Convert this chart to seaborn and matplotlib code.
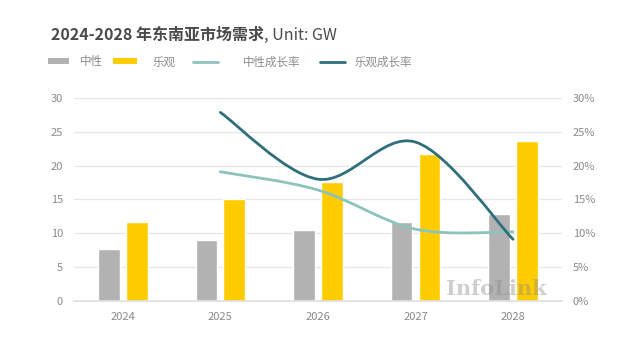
import matplotlib
matplotlib.use("Agg")
import matplotlib.pyplot as plt
import seaborn as sns
import pandas as pd
import numpy as np
from matplotlib.path import Path
from matplotlib.patches import PathPatch, Patch
from matplotlib.lines import Line2D
from matplotlib.ticker import FuncFormatter

# 数据
years = ["2024", "2025", "2026", "2027", "2028"]
neutral = [7.6, 9.0, 10.5, 11.6, 12.8]
optimistic = [11.7, 15.0, 17.6, 21.7, 23.7]
growth_years = ["2025", "2026", "2027", "2028"]
neutral_growth = [19.1, 16.4, 10.6, 10.2]
optimistic_growth = [27.9, 18.0, 23.5, 9.1]

GREY = "#B2B2B2"
YELLOW = "#FFCC00"
LIGHT_TEAL = "#8DC3BD"
DARK_TEAL = "#2F6F7B"
TEXT = "#8A8A8A"
TITLE = "#4A4A4A"

sns.set_theme(style="white")
plt.rcParams["font.family"] = ["Noto Sans CJK SC", "DejaVu Sans"]


def smooth_path(xs, ys):
    """Excel 风格的平滑曲线 (Catmull-Rom -> Bezier)"""
    pts = np.column_stack([xs, ys]).astype(float)
    ext = np.vstack([pts[0], pts, pts[-1]])
    verts = [tuple(pts[0])]
    codes = [Path.MOVETO]
    for i in range(1, len(ext) - 2):
        p0, p1, p2, p3 = ext[i - 1], ext[i], ext[i + 1], ext[i + 2]
        c1 = p1 + (p2 - p0) / 6.0
        c2 = p2 - (p3 - p1) / 6.0
        verts += [tuple(c1), tuple(c2), tuple(p2)]
        codes += [Path.CURVE4] * 3
    return Path(verts, codes)


df = pd.DataFrame({
    "year": years * 2,
    "scenario": ["中性"] * len(years) + ["乐观"] * len(years),
    "value": neutral + optimistic,
})

W, H = 634, 361
fig = plt.figure(figsize=(W / 100, H / 100), dpi=100)
ax = fig.add_axes([0.1167, 0.167, 0.7695, 0.561])

sns.barplot(data=df, x="year", y="value", hue="scenario",
            palette={"中性": GREY, "乐观": YELLOW},
            width=0.572, gap=0.224, ax=ax, legend=False, saturation=1)

ax.set_ylim(0, 30)
ax.set_xlim(-0.5, 4.5)
ax.set_yticks(range(0, 31, 5))
ax.yaxis.grid(True, color="#E6E6E6", linewidth=0.9)
ax.set_axisbelow(True)
ax.set_xlabel("")
ax.set_ylabel("")
for s in ["top", "right", "left"]:
    ax.spines[s].set_visible(False)
ax.spines["bottom"].set_color("#E0E0E0")
ax.tick_params(axis="both", length=0, labelsize=8, labelcolor=TEXT)
ax.tick_params(axis="y", pad=8)
ax.tick_params(axis="x", pad=8)

# 成长率 (次坐标轴)
ax2 = ax.twinx()
ax2.set_ylim(0, 30)
ax2.set_yticks(range(0, 31, 5))
ax2.yaxis.set_major_formatter(FuncFormatter(lambda v, _: f"{v:.0f}%"))
ax2.tick_params(axis="y", length=0, labelsize=8, labelcolor=TEXT, pad=8)
for s in ax2.spines.values():
    s.set_visible(False)

gx = [years.index(y) for y in growth_years]
ax2.add_patch(PathPatch(smooth_path(gx, neutral_growth), fill=False,
                        edgecolor=LIGHT_TEAL, linewidth=2, capstyle="round"))
ax2.add_patch(PathPatch(smooth_path(gx, optimistic_growth), fill=False,
                        edgecolor=DARK_TEAL, linewidth=2, capstyle="round"))

# 水印
ax2.text(0.969, 0.03, "InfoLink", transform=ax.transAxes, ha="right",
         va="baseline", fontsize=15, fontweight="bold", family="DejaVu Serif",
         color="#8C8C8C", alpha=0.42, zorder=5)

# 标题
t1 = fig.text(51 / W, 1 - 35 / H, "2024-2028 年东南亚市场需求", fontsize=11.5,
              fontweight="bold", color=TITLE, ha="left", va="center")
fig.canvas.draw()
bb = t1.get_window_extent()
fig.text(bb.x1 / W, 1 - 35 / H, ", Unit: GW", fontsize=11.5, color=TITLE,
         ha="left", va="center")

# 图例 (各项单独定位)
entries = [
    (Patch(facecolor=GREY, edgecolor="none"), "中性", 48, 1.85, 0.95),
    (Patch(facecolor=YELLOW, edgecolor="none"), "乐观", 113, 2.1, 1.35),
    (Line2D([], [], color=LIGHT_TEAL, linewidth=2), "中性成长率", 193, 2.2, 2.1),
    (Line2D([], [], color=DARK_TEAL, linewidth=2), "乐观成长率", 320, 2.2, 0.8),
]
for handle, label, x0, hl, pad in entries:
    leg = fig.legend([handle], [label], loc="center left",
                     bbox_to_anchor=(x0 / W, 1 - 62 / H), frameon=False,
                     fontsize=8.3, handlelength=hl, handleheight=0.45,
                     handletextpad=pad, borderpad=0, borderaxespad=0)
    for t in leg.get_texts():
        t.set_color(TEXT)

fig.savefig("out.png", dpi=100)
